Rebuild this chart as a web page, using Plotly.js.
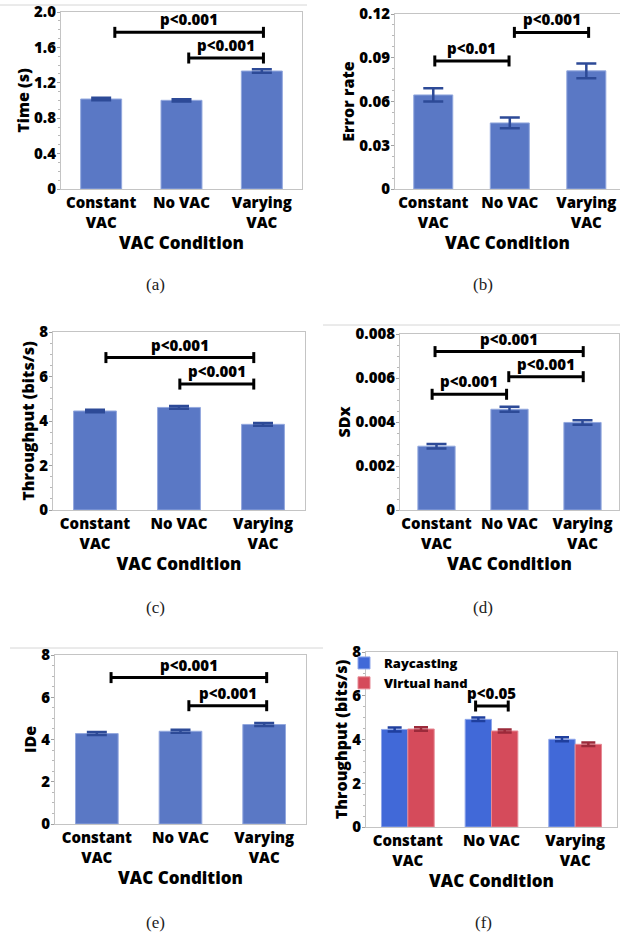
<!DOCTYPE html>
<html>
<head>
<meta charset="utf-8">
<script src="https://cdn.plot.ly/plotly-3.0.1.min.js"></script>
<style>html,body{margin:0;padding:0;background:#fff;} #chart{width:620px;height:938px;}</style>
</head>
<body>
<div id="chart"></div>
<script>
// ---------- DATA ----------
const categories = ["Constant<br>VAC", "No VAC", "Varying<br>VAC"];

const timeMean = [1.017, 1.002, 1.333];
const timeErr = [0.015, 0.012, 0.02];

const errorRateMean = [0.0645, 0.0453, 0.081];
const errorRateErr = [0.0045, 0.0037, 0.005];

const throughputMean = [4.45, 4.61, 3.85];
const throughputErr = [0.06, 0.06, 0.06];

const sdxMean = [0.0029, 0.00458, 0.00398];
const sdxErr = [0.0001, 0.00011, 0.0001];

const ideMean = [4.28, 4.39, 4.71];
const ideErr = [0.07, 0.07, 0.07];

const raycastMean = [4.46, 4.92, 4.01];
const raycastErr = [0.09, 0.08, 0.09];
const virtualHandMean = [4.48, 4.39, 3.78];
const virtualHandErr = [0.08, 0.07, 0.08];

// tick labels per panel
const timeTicks = [0, 0.4, 0.8, 1.2, 1.6, 2.0];
const timeTickText = ["0", "0.4", "0.8", "1.2", "1.6", "2.0"];
const errTicks = [0, 0.03, 0.06, 0.09, 0.12];
const errTickText = ["0", "0.03", "0.06", "0.09", "0.12"];
const tpTicks = [0, 2, 4, 6, 8];
const tpTickText = ["0", "2", "4", "6", "8"];
const sdxTicks = [0, 0.002, 0.004, 0.006, 0.008];
const sdxTickText = ["0", "0.002", "0.004", "0.006", "0.008"];

// significance brackets: [from category index, to category index, value, label]
const sigTime = [[0.17, 2.02, 1.77, "p&lt;0.001"], [1.09, 2.02, 1.48, "p&lt;0.001"]];
const sigErrorRate = [[0.02, 0.99, 0.0878, "p&lt;0.01"], [1.06, 2.03, 0.1074, "p&lt;0.001"]];
const sigThroughput = [[0.13, 1.89, 6.85, "p&lt;0.001"], [1.01, 1.89, 5.66, "p&lt;0.001"]];
const sigSdx = [[-0.02, 2.01, 0.0072, "p&lt;0.001"], [-0.06, 0.96, 0.00526, "p&lt;0.001"], [0.99, 2.01, 0.00606, "p&lt;0.001"]];
const sigIde = [[0.17, 2.03, 6.93, "p&lt;0.001"], [1.1, 2.03, 5.6, "p&lt;0.001"]];
const sigTechnique = [[0.81, 1.2, 5.53, "p&lt;0.05"]];

// ---------- LAYOUT ----------
const W = 620, H = 938;
const FONT = "Open Sans, Noto Sans, sans-serif";
const WT = 800;
const BAR = "#5a78c5", BAR_LINE = "#93a8de", ERR = "#2d4a97";

function xd(a, b) { return [a / W, Math.min(1, b / W)]; }
function yd(top, bottom) { return [1 - bottom / H, 1 - top / H]; }

const panels = [
  {id: "", x: [61, 302], y: [12, 189], range: [0, 2], tv: timeTicks, tt: timeTickText, minor: 0.1, title: "Time (s)", mean: timeMean, err: timeErr, sig: sigTime, xr: [-0.5, 2.5], cap: "(a)", capx: 155},
  {id: "2", x: [395, 620], y: [14, 189], range: [0, 0.12], tv: errTicks, tt: errTickText, minor: 0.0075, title: "Error rate", mean: errorRateMean, err: errorRateErr, sig: sigErrorRate, xr: [-0.5, 2.44], cap: "(b)", capx: 483},
  {id: "3", x: [53, 305], y: [332, 510], range: [0, 8], tv: tpTicks, tt: tpTickText, minor: 0.5, title: "Throughput (bits/s)", mean: throughputMean, err: throughputErr, sig: sigThroughput, xr: [-0.5, 2.5], cap: "(c)", capx: 155},
  {id: "4", x: [400, 619], y: [334, 510], range: [0, 0.008], tv: sdxTicks, tt: sdxTickText, minor: 0.0005, title: "SDx", mean: sdxMean, err: sdxErr, sig: sigSdx, xr: [-0.5, 2.5], cap: "(d)", capx: 483},
  {id: "5", x: [55, 306], y: [655, 824], range: [0, 8], tv: tpTicks, tt: tpTickText, minor: 0.5, title: "IDe", mean: ideMean, err: ideErr, sig: sigIde, xr: [-0.5, 2.5], cap: "(e)", capx: 155},
  {id: "6", x: [366, 617], y: [652, 827], range: [0, 8], tv: tpTicks, tt: tpTickText, minor: 0.5, title: "Throughput (bits/s)", mean: null, err: null, sig: sigTechnique, xr: [-0.5, 2.5], cap: "(f)", capx: 483}
];
const capY = [285, 285, 607, 607, 922, 922];

const layout = {
  width: W, height: H,
  margin: {l: 0, r: 0, t: 0, b: 0},
  paper_bgcolor: "#fff", plot_bgcolor: "#fff",
  font: {family: FONT, color: "#000"},
  barmode: "group", bargap: 0.37, bargroupgap: 0,
  showlegend: true,
  legend: {x: 344 / W, xanchor: "left", y: 1 - 648 / H, yanchor: "top", bgcolor: "rgba(0,0,0,0)",
           font: {family: FONT, size: 13, weight: WT, color: "#000"}, tracegroupgap: 0},
  shapes: [], annotations: []
};

const traces = [];
panels.forEach((p, i) => {
  const xa = "xaxis" + p.id, ya = "yaxis" + p.id;
  const xr = "x" + p.id, yr = "y" + p.id;
  layout[xa] = {
    domain: xd(p.x[0], p.x[1]), anchor: yr, range: p.xr, type: "category",
    showline: true, linecolor: "#c4c4c4", linewidth: 1, mirror: true,
    ticks: "", showgrid: false, zeroline: false, fixedrange: true, tickangle: 0,
    ticklabeloverflow: "allow",
    tickfont: {family: FONT, size: 15, weight: WT, color: "#000"},
    title: {text: "VAC Condition", font: {family: FONT, size: 17, weight: WT, color: "#000"}, standoff: 5}
  };
  layout[ya] = {
    domain: yd(p.y[0], p.y[1]), anchor: xr, range: p.range,
    tickvals: p.tv, ticktext: p.tt,
    showline: true, linecolor: "#c4c4c4", linewidth: 1, mirror: true,
    ticks: "outside", ticklen: 3, tickcolor: "#a0a0a0", ticklabelstandoff: -2,
    ticklabeloverflow: "allow",
    minor: {dtick: p.minor, ticks: "outside", ticklen: 2, tickcolor: "#b8b8b8"},
    showgrid: false, zeroline: false, fixedrange: true,
    tickfont: {family: FONT, size: 15, weight: WT, color: "#000"},
    title: {text: p.title, font: {family: FONT, size: 16, weight: WT, color: "#000"}, standoff: 0}
  };
  if (p.mean) {
    traces.push({
      type: "bar", x: categories, y: p.mean, xaxis: xr, yaxis: yr, width: 0.51,
      marker: {color: BAR, line: {color: BAR_LINE, width: 1}},
      error_y: {type: "data", array: p.err, visible: true, color: ERR, thickness: 2.5, width: 10},
      showlegend: false, hoverinfo: "skip"
    });
  }
  // brackets
  p.sig.forEach(s => {
    const [a, b, v, lab] = s;
    const base = {xref: xr, yref: yr, line: {color: "#000", width: 3}};
    layout.shapes.push(Object.assign({type: "line", x0: a, x1: b, y0: v, y1: v}, base));
    [a, b].forEach(xx => layout.shapes.push(Object.assign({type: "line", x0: xx, x1: xx, ysizemode: "pixel", yanchor: v, y0: -5.5, y1: 5.5}, base)));
    layout.annotations.push({xref: xr, yref: yr, x: (a + b) / 2, y: v, text: lab, showarrow: false,
      yanchor: "bottom", yshift: 1, font: {family: FONT, size: 15, weight: WT, color: "#000"}});
  });
  // caption
  layout.annotations.push({xref: "paper", yref: "paper", x: p.capx / W, y: 1 - capY[i] / H, text: p.cap,
    showarrow: false, xanchor: "center", yanchor: "middle",
    font: {family: "Liberation Serif, DejaVu Serif, serif", size: 17, color: "#222"}});
});

// panel (f) grouped bars
traces.push({
  type: "bar", name: "Raycasting", x: categories, y: raycastMean, xaxis: "x6", yaxis: "y6",
  marker: {color: "#4169d8", line: {color: "#8ea6ea", width: 1}},
  error_y: {type: "data", array: raycastErr, visible: true, color: "#1f3f9e", thickness: 2.5, width: 7},
  hoverinfo: "skip"
});
traces.push({
  type: "bar", name: "Virtual hand", x: categories, y: virtualHandMean, xaxis: "x6", yaxis: "y6",
  marker: {color: "#d54b5b", line: {color: "#e68a95", width: 1}},
  error_y: {type: "data", array: virtualHandErr, visible: true, color: "#9b2a3a", thickness: 2.5, width: 7},
  hoverinfo: "skip"
});

// faint page separator lines from the source figure
const sep = {type: "line", xref: "paper", yref: "paper", line: {color: "#d6d6d6", width: 1}};
layout.shapes.push(Object.assign({x0: 0, x1: 307 / W, y0: 1 - 5 / H, y1: 1 - 5 / H}, sep));
layout.shapes.push(Object.assign({x0: 323 / W, x1: 1, y0: 1 - 325 / H, y1: 1 - 325 / H}, sep));
layout.shapes.push(Object.assign({x0: 10 / W, x1: 323 / W, y0: 1 - 648 / H, y1: 1 - 648 / H}, sep));

Plotly.newPlot("chart", traces, layout, {staticPlot: true, displayModeBar: false});
</script>
</body>
</html>
